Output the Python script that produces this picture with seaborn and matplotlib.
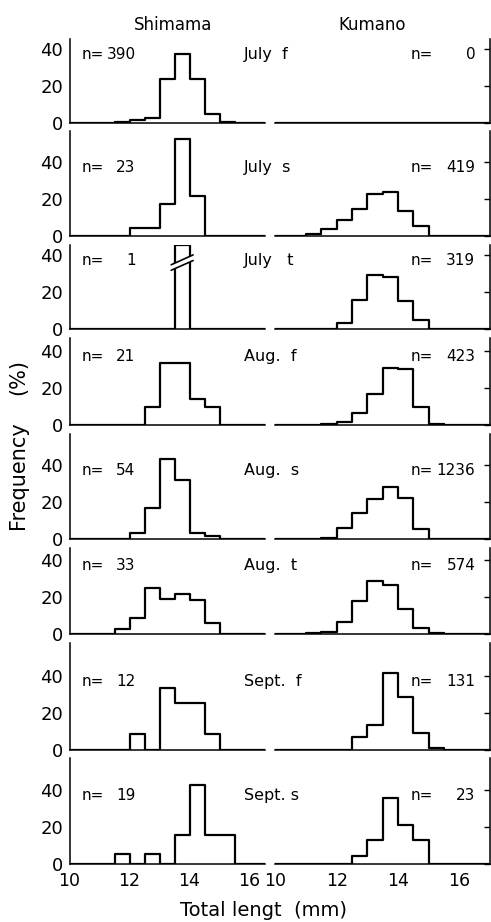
import numpy as np
import pandas as pd
import matplotlib
matplotlib.use("Agg")
import matplotlib.pyplot as plt
import seaborn as sns

sns.set_theme(style="white")
plt.rcParams['font.family'] = ['DejaVu Sans']
plt.rcParams['text.color'] = 'black'
plt.rcParams['xtick.color'] = 'black'
plt.rcParams['ytick.color'] = 'black'
plt.rcParams['axes.labelcolor'] = 'black'

# ---- data (percent frequency per 0.5 mm class, lower class limits) ----
bin_starts = [10.0, 10.5, 11.0, 11.5, 12.0, 12.5, 13.0, 13.5, 14.0, 14.5, 15.0, 15.5, 16.0, 16.5]
bin_width = 0.5

periods = ["July  f", "July  s", "July   t", "Aug.  f", "Aug.  s", "Aug.  t", "Sept.  f", "Sept. s"]

shimama_n = [390, 23, 1, 21, 54, 33, 12, 19]
kumano_n = [0, 419, 319, 423, 1236, 574, 131, 23]

shimama_july_f = [0, 0, 0, 0.5, 1.8, 2.7, 24.0, 37.3, 24.0, 5.2, 0.7, 0, 0, 0]
shimama_july_s = [0, 0, 0, 0, 4.3, 4.3, 17.4, 52.2, 21.7, 0, 0, 0, 0, 0]
shimama_july_t = [0, 0, 0, 0, 0, 0, 0, 100.0, 0, 0, 0, 0, 0, 0]
shimama_aug_f = [0, 0, 0, 0, 0, 9.5, 33.3, 33.3, 14.3, 9.5, 0, 0, 0, 0]
shimama_aug_s = [0, 0, 0, 0, 3.5, 17.1, 43.2, 31.9, 3.2, 1.8, 0, 0, 0, 0]
shimama_aug_t = [0, 0, 0, 2.8, 8.8, 25.0, 18.7, 21.4, 18.5, 6.1, 0, 0, 0, 0]
shimama_sept_f = [0, 0, 0, 0, 8.3, 0, 33.3, 25.0, 25.0, 8.3, 0, 0, 0, 0]
shimama_sept_s = [0, 0, 0, 5.3, 0, 5.3, 0, 15.8, 42.5, 15.8, 15.8, 0, 0, 0]

kumano_july_f = [0, 0, 0, 0, 0, 0, 0, 0, 0, 0, 0, 0, 0, 0]
kumano_july_s = [0, 0, 0.9, 4.0, 8.6, 14.6, 22.7, 23.6, 13.7, 5.6, 0, 0, 0, 0]
kumano_july_t = [0, 0, 0, 0, 3.6, 15.8, 29.4, 28.5, 15.5, 4.9, 0, 0, 0, 0]
kumano_aug_f = [0, 0, 0, 0.5, 1.8, 6.3, 16.8, 31.0, 30.1, 9.9, 0.5, 0, 0, 0]
kumano_aug_s = [0.3, 0.3, 0, 0.9, 6.3, 14.4, 21.6, 28.5, 22.2, 5.4, 0.4, 0, 0, 0]
kumano_aug_t = [0, 0, 0.4, 1.3, 6.3, 17.8, 28.8, 26.5, 13.5, 3.1, 0.4, 0, 0, 0]
kumano_sept_f = [0, 0, 0, 0, 0, 6.8, 13.5, 41.2, 28.6, 8.8, 0.7, 0, 0, 0]
kumano_sept_s = [0, 0, 0, 0, 0, 4.3, 12.8, 35.5, 21.2, 13.0, 0, 0, 0, 0]

shimama = [shimama_july_f, shimama_july_s, shimama_july_t, shimama_aug_f,
           shimama_aug_s, shimama_aug_t, shimama_sept_f, shimama_sept_s]
kumano = [kumano_july_f, kumano_july_s, kumano_july_t, kumano_aug_f,
          kumano_aug_s, kumano_aug_t, kumano_sept_f, kumano_sept_s]

x_ticks = [10, 12, 14, 16]
y_ticks = [0, 20, 40]

# ---- layout ----
W, H = 491, 922
fig = plt.figure(figsize=(W / 100, H / 100), dpi=100)
left_px = (69.5, 264.5)
right_px = (275.3, 490.0)
baselines = [123.3, 236, 329.3, 425, 539.3, 634, 749.5, 864]
ytops = [45.5, 57, 45.6, 47, 57, 46.5, 57.3, 57.3]
ppu = 1.85
LW = 1.6
FS_TXT = 11


def draw_hist(ax, pct, xmax, ytop):
    centers = [s + bin_width / 2 for s in bin_starts]
    vals = [min(float(v), ytop - 0.25) for v in pct]
    df = pd.DataFrame({"length": centers, "pct": vals})
    n_bins = int(round((xmax - 10.0) / bin_width))
    edges = [10.0 + bin_width * k for k in range(n_bins + 1)]
    sns.histplot(data=df, x="length", weights="pct", bins=edges, element="step",
                 fill=False, color="black", linewidth=LW, ax=ax)
    ax.set_xlabel("")
    ax.set_ylabel("")


n_rows = len(periods)
for i in range(n_rows):
    b = baselines[i]
    h = ytops[i] * ppu
    yb = 1 - b / H
    hf = h / H
    axL = fig.add_axes([left_px[0] / W, yb, (left_px[1] - left_px[0]) / W, hf])
    axR = fig.add_axes([right_px[0] / W, yb, (right_px[1] - right_px[0]) / W, hf])

    for ax, data, xmax in ((axL, shimama[i], 16.5), (axR, kumano[i], 17.0)):
        ax.patch.set_alpha(0)
        draw_hist(ax, data, xmax, ytops[i])
        ax.set_xlim(10, xmax)
        ax.set_ylim(0, ytops[i])
        ax.set_xticks(x_ticks)
        ax.set_yticks(y_ticks)
        ax.tick_params(axis="both", direction="in", length=4, width=1.0, colors="black")
        for s in ax.spines.values():
            s.set_linewidth(1.1)
            s.set_color("black")
        if i == n_rows - 1:
            ax.set_xticklabels([str(t) for t in x_ticks], fontsize=12.5)
            ax.tick_params(axis="x", pad=6)
        else:
            ax.set_xticklabels([])

    sns.despine(ax=axL, top=True, right=True)
    axL.set_yticklabels([str(t) for t in y_ticks], fontsize=13)
    axL.tick_params(axis="y", pad=4.5)

    sns.despine(ax=axR, top=True, left=True, right=False)
    axR.yaxis.tick_right()
    axR.tick_params(axis="y", labelright=False, direction="in")

    # annotations
    axL.text(10.42, 37, "n=", fontsize=FS_TXT, va="center", ha="left", zorder=10)
    axL.text(12.2, 37, str(shimama_n[i]), fontsize=FS_TXT, va="center", ha="right", zorder=10)
    axL.text(15.82, 37, periods[i], fontsize=FS_TXT + 0.5, va="center", ha="left", zorder=10)
    axR.text(14.42, 37, "n=", fontsize=FS_TXT, va="center", ha="left", zorder=10)
    axR.text(16.52, 37, str(kumano_n[i]), fontsize=FS_TXT, va="center", ha="right", zorder=10)

    # broken bar marker where a class exceeds the axis
    over = [k for k, v in enumerate(shimama[i]) if v > ytops[i]]
    for k in over:
        x0 = bin_starts[k] - 0.11
        x1 = bin_starts[k] + bin_width + 0.12
        yl0, yl1 = ytops[i] * 0.70, ytops[i] * 0.815
        yu0, yu1 = ytops[i] * 0.765, ytops[i] * 0.882
        axL.fill([x0, x1, x1, x0], [yu0, yu1, yl1, yl0], color="white", zorder=5, lw=0)
        axL.plot([x0, x1], [yu0, yu1], color="black", lw=1.2, zorder=6)
        axL.plot([x0, x1], [yl0, yl1], color="black", lw=1.2, zorder=6)

# titles and axis labels
fig.text(173 / W, 1 - 30 / H, "Shimama", ha="center", va="baseline", fontsize=12)
fig.text(372.5 / W, 1 - 30 / H, "Kumano", ha="center", va="baseline", fontsize=12)
fig.text(18 / W, 1 - 475 / H, "Frequency", rotation=90, ha="center", va="center", fontsize=15)
fig.text(18 / W, 1 - 377 / H, "(%)", rotation=90, ha="center", va="center", fontsize=15)
fig.text(264 / W, 1 - 916 / H, "Total lengt  (mm)", ha="center", va="baseline", fontsize=14)

fig.savefig("out.png", dpi=100)
